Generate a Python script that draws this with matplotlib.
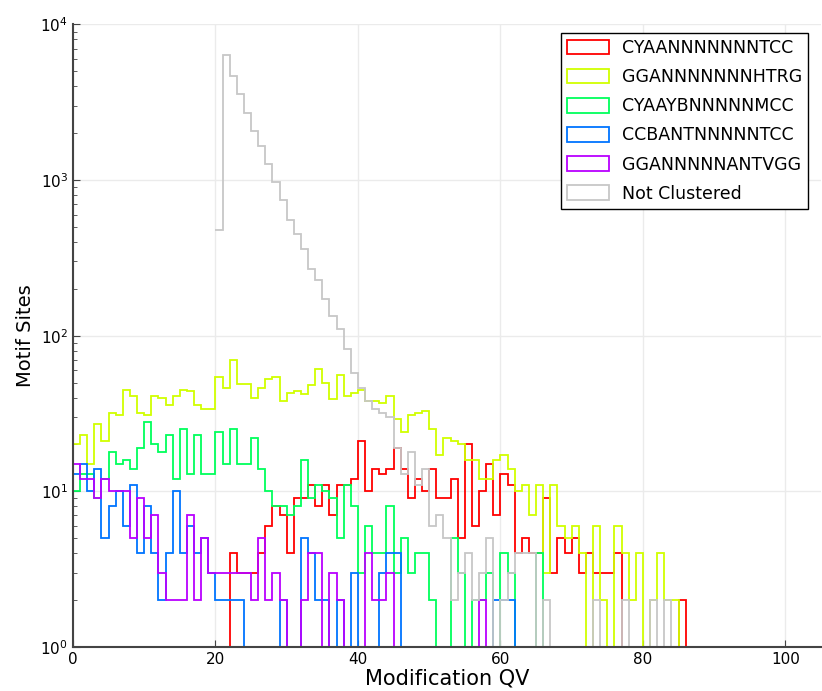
import numpy as np
import matplotlib
matplotlib.use("Agg")
import matplotlib.pyplot as plt
from matplotlib.patches import Patch

labels = ["CYAANNNNNNNTCC", "GGANNNNNNNHTRG", "CYAAYBNNNNNMCC",
          "CCBANTNNNNNTCC", "GGANNNNNANTVGG", "Not Clustered"]

edges = np.arange(0, 88)

red = [0]*22 + [4,3,3,3,4,6,8,7,
       4,9,9,11,8,11,7,11,11,12,
       21,10,14,13,14,19,14,9,12,10,
       14,9,9,12,5,20,6,10,15,7,
       13,11,4,5,4,4,9,3,5,4,
       5,3,4,3,3,3,4,0,0,0,
       0,0,0,0,0,2,0]

yellow = [20,23,15,27,21,32,31,45,41,32,
          31,41,40,36,41,45,44,36,34,34,
          54,46,70,49,49,40,46,53,54,38,
          43,44,42,48,61,50,39,56,41,43,
          45,38,38,37,41,29,24,31,32,33,
          25,17,22,21,20,16,16,12,12,16,
          17,14,10,11,7,11,3,11,6,5,
          6,4,0,6,2,0,6,4,2,4,
          0,2,4,2,2,0,0]

green = [10,13,13,9,12,18,15,16,14,19,
         28,20,18,23,12,25,13,23,13,13,
         24,15,25,15,15,22,14,10,8,8,
         7,8,16,9,11,10,9,5,11,8,
         3,6,4,4,8,3,5,3,4,4,
         2,0,0,5,3,0,2,2,3,0,
         4,3,0,0,0,4,0,0,0,0] + [0]*17

blue = [13,15,10,14,5,8,10,6,11,4,
        8,4,2,4,10,4,6,4,5,3,
        2,2,2,2,0,0,0,0,0,2,
        0,0,5,4,2,2,0,2,0,3,
        0,0,0,3,4,4,0,0,0,0,
        0,0,0,0,0,0,0,0,0,2,
        2,2] + [0]*25

purple = [15,12,12,9,12,10,10,10,5,9,
          5,7,3,2,2,2,7,2,5,3,
          3,3,3,3,3,2,5,2,3,2,
          0,0,2,4,4,0,3,2,0,0,
          0,4,2,2,3,0,0,0,0,0,
          0,0,0,0,0,0,0,2] + [0]*29

gray = [0]*20 + [481,6330,4690,3590,2710,2075,1647,1268,977,745,
        552,453,359,268,227,173,133,111,82,58,
        46,38,34,32,30,19,13,18,11,14,
        6,7,5,2,3,4,2,3,5,0,
        2,3,4,4,4,0,2,0,0,0,
        0,0,0,2,0,0,0,2,0,0,
        0,2,0,2,0,0,0]

series = [red, yellow, green, blue, purple, gray]
cmap = plt.get_cmap("hsv")
colors = [cmap(i / 5.0) for i in range(5)] + [(0.78, 0.78, 0.78)]

fig = plt.figure(figsize=(8.22, 6.91), dpi=100)
ax = fig.add_axes([0.0888, 0.0637, 0.9100, 0.9010])
ax.set_yscale("log", nonpositive="clip")

for i, (vals, col) in enumerate(zip(series, colors)):
    v = np.array(vals, dtype=float)
    if i == len(series) - 1:
        # the unclustered outline starts at its first filled bin
        first = int(np.argmax(v > 0))
        ax.stairs(v[first:], edges[first:], baseline=None, fill=False,
                  color=col, linewidth=1.3)
    else:
        ax.stairs(v, edges, baseline=0, fill=False, color=col, linewidth=1.3)

ax.set_xlim(0, 105)
ax.set_ylim(1, 1e4)
ax.set_xticks([0, 20, 40, 60, 80, 100])
ax.grid(True, which="major", color="#ebebeb", linewidth=1.0)
ax.set_axisbelow(True)
for s in ["top", "right"]:
    ax.spines[s].set_visible(False)
for s in ["left", "bottom"]:
    ax.spines[s].set_color("#444444")
    ax.spines[s].set_linewidth(1.5)
ax.tick_params(axis="both", which="both", direction="in", top=False, right=False,
               labelsize=11, colors="#444444", labelcolor="black")
ax.tick_params(axis="both", which="major", length=5)
ax.tick_params(axis="both", which="minor", length=3)
ax.set_xlabel("Modification QV", fontsize=15, labelpad=1)
ax.set_ylabel("Motif Sites", fontsize=14)

handles = [Patch(facecolor="none", edgecolor=c, linewidth=1.3) for c in colors]
leg = ax.legend(handles, labels, loc="upper right", fontsize=12.5, fancybox=False,
                framealpha=1, edgecolor="black", borderaxespad=0,
                bbox_to_anchor=(808 / 822, 1 - 33 / 691),
                bbox_transform=fig.transFigure,
                handlelength=2.4, handleheight=0.9, handletextpad=0.75,
                labelspacing=0.64, borderpad=0.35)
leg.get_frame().set_linewidth(1.0)

fig.savefig("out.png", dpi=100)
